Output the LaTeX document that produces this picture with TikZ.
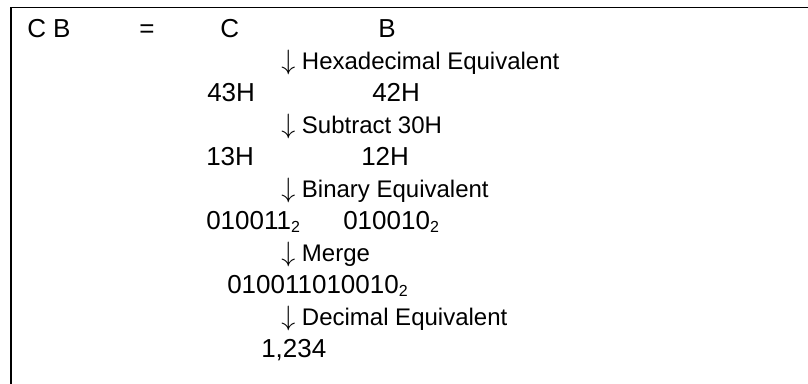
\RequirePackage{fix-cm}
\documentclass[tikz,border=0pt]{standalone}
\usepackage{fontspec}
\setmainfont{Liberation Sans}
\newcommand{\subtwo}{\raisebox{-0.12em}{\fontsize{12}{14}\selectfont 2}}
\newcommand{\downarr}{{\fontsize{21}{24}\selectfont$\downarrow$}}
\begin{document}
\begin{tikzpicture}[x=0.75pt,y=0.75pt,yscale=-1,xscale=1,
  valtext/.style={anchor=base west,inner sep=0pt,font=\fontsize{19.5}{23}\selectfont},
  steptext/.style={anchor=base west,inner sep=0pt,font=\fontsize{18}{22}\selectfont}]
\useasboundingbox (0,0) rectangle (808,383);

%Shape: Frame (left and top)
\draw [line width=1.2]  (10.75,390) -- (10.75,7.5) -- (815,7.5) ;

% Text Node
\draw (27,37) node (cb) [valtext]    {C B};
% Text Node
\draw (139,37) node (eq) [valtext]    {=};
% Text Node
\draw (220,37) node (c) [valtext]    {C};
% Text Node
\draw (378,37) node (b) [valtext]    {B};
% Text Node
\draw (281,69) node (hex) [steptext]    {\downarr\ Hexadecimal Equivalent};
% Text Node
\draw (207,101) node (hc) [valtext]    {43H};
% Text Node
\draw (372,101) node (hb) [valtext]    {42H};
% Text Node
\draw (281,133) node (sub) [steptext]    {\downarr\ Subtract 30H};
% Text Node
\draw (206,165) node (sc) [valtext]    {13H};
% Text Node
\draw (361,165) node (sb) [valtext]    {12H};
% Text Node
\draw (281,197) node (bin) [steptext]    {\downarr\ Binary Equivalent};
% Text Node
\draw (206,229) node (bc) [valtext]    {010011\subtwo};
% Text Node
\draw (343,229) node (bb) [valtext]    {010010\subtwo};
% Text Node
\draw (281,261) node (mrg) [steptext]    {\downarr\ Merge};
% Text Node
\draw (227,293) node (mb) [valtext]    {010011010010\subtwo};
% Text Node
\draw (281,325) node (dec) [steptext]    {\downarr\ Decimal Equivalent};
% Text Node
\draw (261,357) node (res) [valtext]    {1,234};

\end{tikzpicture}
\end{document}
